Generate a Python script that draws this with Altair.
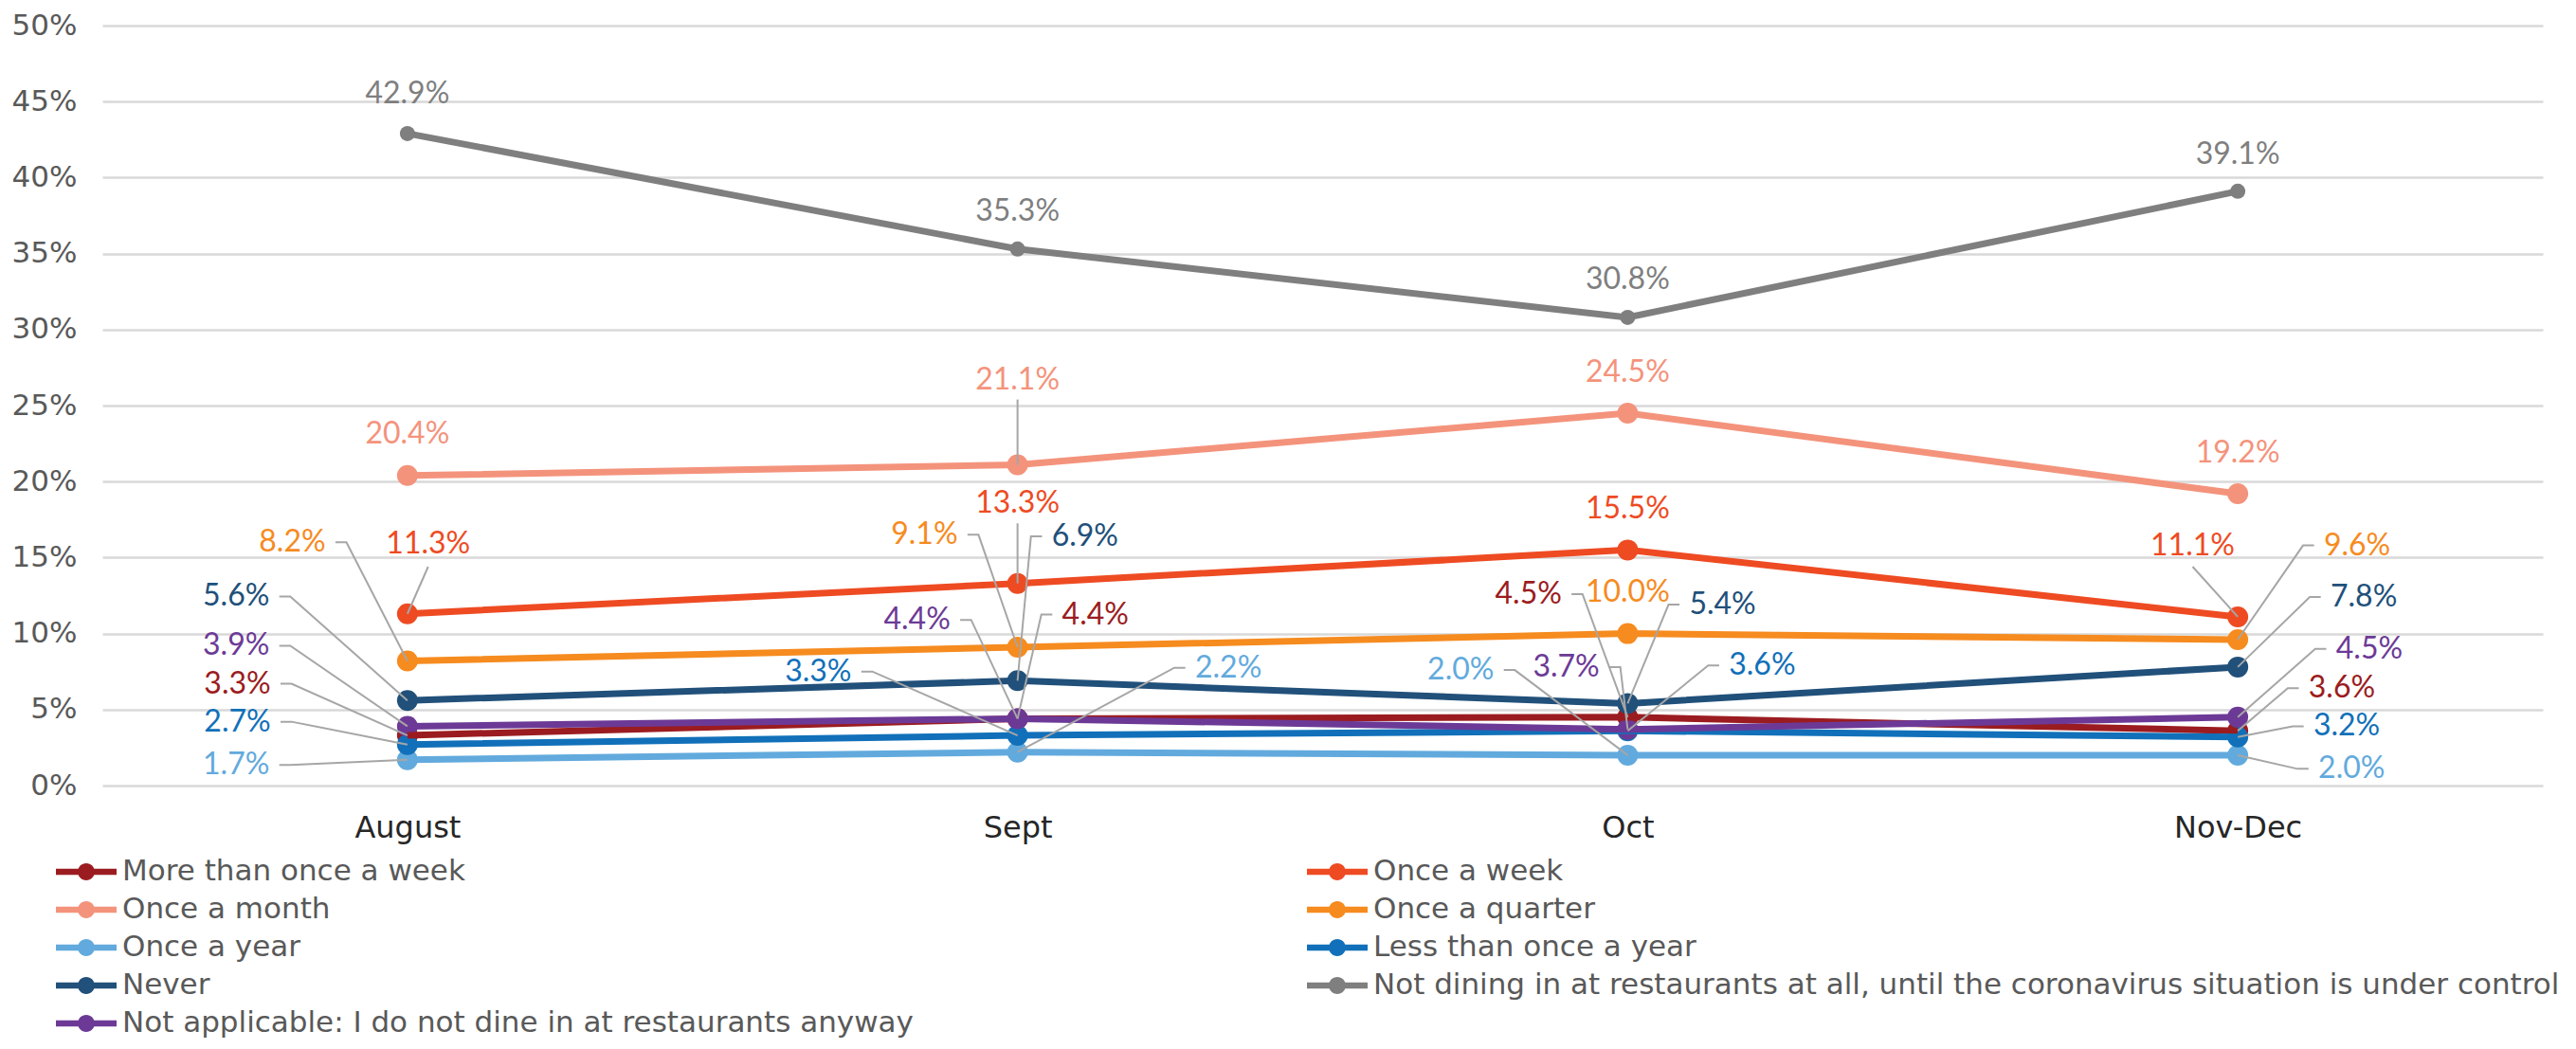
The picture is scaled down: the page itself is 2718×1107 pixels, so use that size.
import json
import altair as alt
import pandas as pd

# ---------------- data ----------------
months = ["August", "Sept", "Oct", "Nov-Dec"]
series_names = [
    "More than once a week",
    "Once a week",
    "Once a month",
    "Once a quarter",
    "Once a year",
    "Less than once a year",
    "Never",
    "Not dining in at restaurants at all, until the coronavirus situation is under control",
    "Not applicable: I do not dine in at restaurants anyway",
]
more_than_once_a_week = [3.3, 4.4, 4.5, 3.6]
once_a_week = [11.3, 13.3, 15.5, 11.1]
once_a_month = [20.4, 21.1, 24.5, 19.2]
once_a_quarter = [8.2, 9.1, 10.0, 9.6]
once_a_year = [1.7, 2.2, 2.0, 2.0]
less_than_once_a_year = [2.7, 3.3, 3.6, 3.2]
never = [5.6, 6.9, 5.4, 7.8]
not_dining = [42.9, 35.3, 30.8, 39.1]
not_applicable = [3.9, 4.4, 3.7, 4.5]
series_values = [more_than_once_a_week, once_a_week, once_a_month, once_a_quarter,
                 once_a_year, less_than_once_a_year, never, not_dining, not_applicable]

colors = ["#9B1C20", "#EE4B23", "#F4937C", "#F68B1F", "#62AADD",
          "#1170B9", "#21507A", "#7F7F7F", "#6C3A96"]

# ---------------- label layout (x in month-index units, y in % units) ----------------
label_x = [
    [-0.224, 0.034, 0.0, -0.134, -0.226, -0.224, -0.226, 0.0, -0.226],
    [1.073, 1.0, 1.0, 0.902, 1.291, 0.728, 1.056, 1.0, 0.890],
    [1.892, 2.0, 2.0, 2.0, 1.781, 2.166, 2.101, 2.0, 1.954],
    [3.116, 2.926, 3.0, 3.141, 3.132, 3.124, 3.152, 3.0, 3.161],
]
label_y = [
    [6.7, 15.9, 23.1, 16.0, 1.36, 4.2, 12.44, 45.5, 9.2],
    [11.25, 18.6, 26.7, 16.5, 7.75, 7.5, 16.4, 37.75, 10.9],
    [12.6, 18.2, 27.2, 12.7, 7.6, 7.9, 11.9, 33.3, 7.8],
    [6.4, 15.8, 21.9, 15.8, 1.1, 3.9, 12.4, 41.5, 9.0],
]
label_align = [
    ["right", "center", "center", "right", "right", "right", "right", "center", "right"],
    ["left", "center", "center", "right", "left", "right", "left", "center", "right"],
    ["right", "center", "center", "center", "right", "left", "left", "center", "right"],
    ["left", "center", "center", "left", "left", "left", "left", "center", "left"],
]
# vertical leader start for centred labels that have one (None = no leader)
center_leader_top = [
    [None, 14.4, None, None, None, None, None, None, None],
    [None, 17.25, 25.4, None, None, None, None, None, None],
    [None, None, None, None, None, None, None, None, None],
    [None, 14.4, None, None, None, None, None, None, None],
]
STUB_GAP = 0.016
STUB_LEN = 0.018

# ---------------- tables ----------------
pts, labs, leads = [], [], []
for si, name in enumerate(series_names):
    for m in range(len(months)):
        v = series_values[si][m]
        pts.append({"x": m, "value": v, "series": name})
        lx, ly, al = label_x[m][si], label_y[m][si], label_align[m][si]
        labs.append({"lx": lx, "ly": ly, "align": al, "series": name, "text": f"{v:.1f}%"})
        lid = f"{si}-{m}"
        path = None
        if al == "right":
            path = [(lx + STUB_GAP, ly), (lx + STUB_GAP + STUB_LEN, ly)]
        elif al == "left":
            path = [(lx - STUB_GAP, ly), (lx - STUB_GAP - STUB_LEN, ly)]
        elif center_leader_top[m][si] is not None:
            path = [(lx, center_leader_top[m][si])]
        if path:
            path = path + [(m, v)]
            for k, (px, py) in enumerate(path):
                leads.append({"id": lid, "k": k, "px": px, "py": py})

points_df = pd.DataFrame(pts)
labels_df = pd.DataFrame(labs)
leaders_df = pd.DataFrame(leads)

# ---------------- scales / axes ----------------
x_scale = alt.Scale(domain=[-0.5, len(months) - 0.5], nice=False, zero=False)
y_scale = alt.Scale(domain=[0, 50], nice=False, zero=True)
color_scale = alt.Scale(domain=series_names, range=colors)

x_axis = alt.Axis(
    values=list(range(len(months))),
    labelExpr=json.dumps(months) + "[datum.value]",
    grid=False, domain=False, ticks=False, title=None,
    labelFont="DejaVu Sans", labelFontSize=32, labelColor="#262626", labelPadding=29,
)
y_axis = alt.Axis(
    values=list(range(0, 51, 5)),
    labelExpr="datum.value + '%'",
    grid=True, gridColor="#D9D9D9", gridWidth=2.5,
    domain=False, ticks=False, title=None,
    labelFont="DejaVu Sans", labelFontSize=31, labelColor="#595959", labelPadding=27,
)

LEGEND_SYMBOL = ("M-1,-0.1L1,-0.1L1,0.1L-1,0.1Z "
                 "M0.28,0A0.28,0.28 0 1,1 -0.28,0A0.28,0.28 0 1,1 0.28,0Z")

legend = alt.Legend(
    orient="none", legendX=-49, legendY=873, columns=2, direction="horizontal",
    title=None,
    symbolType=LEGEND_SYMBOL, symbolSize=4096, symbolStrokeWidth=0, symbolOpacity=1,
    labelFont="DejaVu Sans", labelFontSize=31, labelColor="#595959", labelOffset=6,
    labelLimit=2000, clipHeight=40, rowPadding=0, columnPadding=415, padding=0,
)

lines = alt.Chart(points_df).mark_line(strokeWidth=7).encode(
    x=alt.X("x:Q", scale=x_scale, axis=x_axis),
    y=alt.Y("value:Q", scale=y_scale, axis=y_axis),
    color=alt.Color("series:N", scale=color_scale, legend=None),
    detail="series:N",
)

points_main = alt.Chart(points_df).transform_filter(
    alt.datum.series != series_names[7]
).mark_point(filled=True, size=484, opacity=1).encode(
    x=alt.X("x:Q", scale=x_scale, axis=x_axis),
    y=alt.Y("value:Q", scale=y_scale, axis=y_axis),
    color=alt.Color("series:N", scale=color_scale, legend=legend),
)

points_gray = alt.Chart(points_df).transform_filter(
    alt.datum.series == series_names[7]
).mark_point(filled=True, size=256, opacity=1).encode(
    x=alt.X("x:Q", scale=x_scale, axis=x_axis),
    y=alt.Y("value:Q", scale=y_scale, axis=y_axis),
    color=alt.Color("series:N", scale=color_scale, legend=None),
)

leaders = alt.Chart(leaders_df).mark_line(color="#A6A6A6", strokeWidth=2).encode(
    x=alt.X("px:Q", scale=x_scale, axis=x_axis),
    y=alt.Y("py:Q", scale=y_scale, axis=y_axis),
    detail="id:N",
    order="k:Q",
)

text_layers = []
for al in ["left", "center", "right"]:
    text_layers.append(
        alt.Chart(labels_df).transform_filter(alt.datum.align == al).mark_text(
            align=al, baseline="middle", font="Lato", fontSize=32,
        ).encode(
            x=alt.X("lx:Q", scale=x_scale, axis=x_axis),
            y=alt.Y("ly:Q", scale=y_scale, axis=y_axis),
            text="text:N",
            color=alt.Color("series:N", scale=color_scale, legend=None),
        )
    )

chart = alt.layer(points_main, lines, points_gray, leaders, *text_layers).properties(
    width=2575, height=802,
    autosize=alt.AutoSizeParams(type="none"),
    padding={"left": 100, "top": 19, "right": 20, "bottom": 270},
    background="white",
).configure_view(stroke=None)

chart.save("out.html", embed_options={"renderer": "svg", "actions": False})
